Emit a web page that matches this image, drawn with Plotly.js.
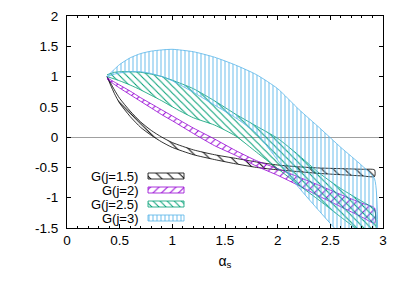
<!DOCTYPE html>
<html><head><meta charset="utf-8">
<script src="https://cdn.plot.ly/plotly-3.0.1.min.js"></script>
<style>html,body{margin:0;padding:0;background:#fff}#chart{width:407px;height:285px}</style>
</head><body><div id="chart"></div>
<script>
// alpha_s sample points
const alphaS = [0.38, 0.45, 0.5, 0.6, 0.7, 0.8, 0.9, 1.0, 1.2, 1.4, 1.6, 1.8, 2.0, 2.2, 2.4, 2.6, 2.8, 2.92];

// G(j=1.5)
const g15Upper = [1.0, 0.78, 0.64, 0.43, 0.25, 0.11, 0.0, -0.09, -0.21, -0.29, -0.35, -0.41, -0.46, -0.49, -0.51, -0.52, -0.53, -0.54];
const g15Lower = [1.0, 0.72, 0.56, 0.34, 0.16, 0.03, -0.08, -0.17, -0.29, -0.37, -0.44, -0.5, -0.54, -0.57, -0.6, -0.62, -0.64, -0.65];
// G(j=2)
const g2Upper = [0.98, 0.91, 0.86, 0.76, 0.65, 0.55, 0.45, 0.35, 0.15, -0.03, -0.22, -0.39, -0.52, -0.66, -0.8, -0.95, -1.09, -1.17];
const g2Lower = [0.96, 0.87, 0.81, 0.7, 0.59, 0.48, 0.37, 0.27, 0.06, -0.14, -0.3, -0.48, -0.63, -0.8, -0.98, -1.15, -1.32, -1.42];
// G(j=2.5)
const g25Upper = [1.03, 1.07, 1.08, 1.08, 1.07, 1.04, 1.0, 0.94, 0.8, 0.6, 0.38, 0.18, -0.02, -0.3, -0.6, -0.85, -1.06, -1.2];
const g25Lower = [1.0, 0.96, 0.93, 0.86, 0.78, 0.69, 0.6, 0.5, 0.32, 0.2, 0.02, -0.25, -0.52, -0.79, -1.05, -1.32, -1.58, -1.72];
// G(j=3)
const g3Upper = [1.0, 1.12, 1.2, 1.31, 1.38, 1.42, 1.44, 1.45, 1.41, 1.32, 1.19, 1.03, 0.8, 0.46, 0.15, -0.17, -0.47, -0.69];
const g3Lower = [1.0, 1.04, 1.06, 1.08, 1.08, 1.05, 1.0, 0.93, 0.74, 0.53, 0.32, 0.06, -0.38, -0.83, -1.23, -1.62, -2.0, -2.2];

const seriesNames = ['G(j=1.5)', 'G(j=2)', 'G(j=2.5)', 'G(j=3)'];
const xTickVals = [0, 0.5, 1, 1.5, 2, 2.5, 3];
const yTickVals = [-1.5, -1, -0.5, 0, 0.5, 1, 1.5, 2];

const bands = [[g15Upper, g15Lower], [g2Upper, g2Lower], [g25Upper, g25Lower], [g3Upper, g3Lower]];
const colors = ['#000000', '#9400d3', '#009e73', '#56b4e9'];
const patterns = [
  {shape: '\\', size: 8, solidity: 0.12},
  {shape: '/', size: 6, solidity: 0.16},
  {shape: '\\', size: 5, solidity: 0.2},
  {shape: '|', size: 4, solidity: 0.22}
];
const FAM = 'Liberation Sans, Arial, sans-serif';

const traces = [];
bands.forEach(([up, lo], i) => {
  traces.push({
    type: 'scatter', mode: 'lines',
    x: alphaS.concat(alphaS.slice().reverse()),
    y: up.concat(lo.slice().reverse()),
    fill: 'toself', fillcolor: 'rgba(0,0,0,0)',
    fillpattern: Object.assign({fgcolor: colors[i], bgcolor: 'rgba(0,0,0,0)'}, patterns[i]),
    line: {color: colors[i], width: 0.8, shape: 'spline', smoothing: 0.6},
    hoverinfo: 'skip', showlegend: false
  });
});

// key (legend) drawn on a hidden overlay axis measured in pixels of the plot area
const annotations = [];
seriesNames.forEach((name, i) => {
  const yc = 52 - i * 14;
  traces.push({
    type: 'scatter', mode: 'lines', xaxis: 'x2', yaxis: 'y2',
    x: [81, 117, 117, 81, 81], y: [yc - 3, yc - 3, yc + 3, yc + 3, yc - 3],
    fill: 'toself', fillcolor: 'rgba(0,0,0,0)',
    fillpattern: Object.assign({fgcolor: colors[i], bgcolor: 'rgba(0,0,0,0)'}, patterns[i]),
    line: {color: colors[i], width: 0.8},
    hoverinfo: 'skip', showlegend: false
  });
  annotations.push({xref: 'x2', yref: 'y2', x: 72, y: yc, text: name, showarrow: false,
    xanchor: 'right', yanchor: 'middle', borderpad: 0,
    font: {family: FAM, size: 13, color: '#000'}});
});

const font = {family: FAM, size: 13.5, color: '#000'};
const layout = {
  width: 407, height: 285,
  margin: {l: 67, r: 24, t: 16, b: 57},
  paper_bgcolor: '#fff', plot_bgcolor: '#fff',
  font: font,
  showlegend: false,
  xaxis: {
    range: [0, 3], tickvals: xTickVals, ticktext: xTickVals.map(String),
    ticks: 'inside', ticklen: 4, tickcolor: '#000', mirror: 'ticks',
    showline: true, linecolor: '#000', linewidth: 1, showgrid: false, zeroline: false,
    minor: {dtick: 0.1, ticks: 'inside', ticklen: 2, tickcolor: '#000', showgrid: false},
    title: {text: 'α<sub>s</sub>', font: {family: FAM, size: 14}, standoff: 8},
    tickfont: font
  },
  yaxis: {
    range: [-1.5, 2], tickvals: yTickVals, ticktext: yTickVals.map(String),
    ticks: 'inside', ticklen: 4, tickcolor: '#000', mirror: 'ticks',
    showline: true, linecolor: '#000', linewidth: 1, showgrid: false,
    zeroline: true, zerolinecolor: '#a0a0a0', zerolinewidth: 1,
    ticklabelstandoff: 5,
    tickfont: font
  },
  xaxis2: {overlaying: 'x', anchor: 'y2', range: [0, 316], visible: false, fixedrange: true},
  yaxis2: {overlaying: 'y', anchor: 'x2', range: [0, 212], visible: false, fixedrange: true},
  annotations: annotations
};

Plotly.newPlot('chart', traces, layout, {displayModeBar: false, staticPlot: true});
</script>
</body></html>
